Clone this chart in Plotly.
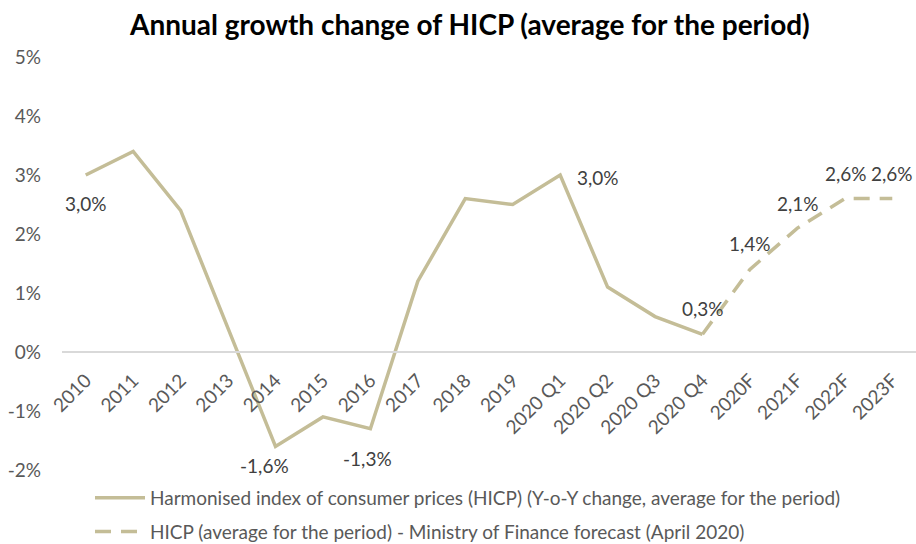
import plotly.graph_objects as go

# Categories on the x axis
categories = ["2010", "2011", "2012", "2013", "2014", "2015", "2016", "2017",
              "2018", "2019", "2020 Q1", "2020 Q2", "2020 Q3", "2020 Q4",
              "2020F", "2021F", "2022F", "2023F"]

# Actual HICP, % y-o-y (average for the period)
hicp_actual_x = categories[:14]
hicp_actual = [3.0, 3.4, 2.4, 0.4, -1.6, -1.1, -1.3, 1.2, 2.6, 2.5,
               3.0, 1.1, 0.6, 0.3]

# Ministry of Finance forecast (April 2020), starting from the last actual
hicp_forecast_x = categories[13:]
hicp_forecast = [0.3, 1.4, 2.1, 2.6, 2.6]

# Y axis ticks
y_ticks = [-2, -1, 0, 1, 2, 3, 4, 5]
y_tick_labels = ["-2%", "-1%", "0%", "1%", "2%", "3%", "4%", "5%"]

# Which points carry a value label, and the label offset (px) for each
actual_label_idx = [0, 4, 6, 10]
actual_label_shift = [(0, -28), (-11, -19), (-3, -30), (38, -2)]
forecast_label_idx = [0, 1, 2, 3, 4]
forecast_label_shift = [(0, 26), (0, 26), (1, 25), (1, 25), (0, 25)]

LINE_COLOR = "#C4BD97"
FONT = "Lato, 'Open Sans', sans-serif"
Y_MIN, Y_MAX = -2, 5


def fmt(v):
    return f"{v:.1f}%".replace(".", ",")


fig = go.Figure()
fig.add_trace(go.Scatter(
    x=hicp_actual_x, y=hicp_actual, mode="lines",
    line=dict(color=LINE_COLOR, width=3.5),
    name="Harmonised index of consumer prices (HICP) (Y-o-Y change, average for the period)",
    legendgroup="a",
))
fig.add_trace(go.Scatter(
    x=hicp_forecast_x, y=hicp_forecast, mode="lines",
    line=dict(color=LINE_COLOR, width=3.5, dash="16px,10px"),
    name="HICP (average for the period) - Ministry of Finance forecast (April 2020)",
    legendgroup="b",
))

# Value labels; x given as category index so year-like names are not read as numbers
annotations = []
for xs, ys, idx, shifts in ((hicp_actual_x, hicp_actual, actual_label_idx, actual_label_shift),
                            (hicp_forecast_x, hicp_forecast, forecast_label_idx, forecast_label_shift)):
    for i, (dx, dy) in zip(idx, shifts):
        annotations.append(dict(x=categories.index(xs[i]), y=ys[i], text=fmt(ys[i]),
                                showarrow=False, xshift=dx, yshift=dy,
                                font=dict(family=FONT, size=19, color="#404040")))

fig.update_layout(
    width=916, height=544,
    margin=dict(l=62, r=0, t=57, b=74, autoexpand=False),
    paper_bgcolor="white", plot_bgcolor="white",
    font=dict(family=FONT, color="#595959"),
    title=dict(text="<b>Annual growth change of HICP (average for the period)</b>",
               x=0.513, xanchor="center", y=1 - 25 / 544, yanchor="middle",
               font=dict(family=FONT, size=28, color="black")),
    annotations=annotations,
    showlegend=True,
    legend=dict(orientation="v", xref="container", yref="container",
                x=90 / 916, xanchor="left", y=1 - 479 / 544, yanchor="top",
                font=dict(family=FONT, size=19, color="#595959"),
                tracegroupgap=6, itemwidth=50),
    # category axis drawn along the 0% line; invisible ticks keep labels clear of it
    xaxis=dict(type="category", categoryorder="array", categoryarray=categories,
               range=[-0.5, len(categories) - 0.5], autorange=False,
               anchor="free", position=(0 - Y_MIN) / (Y_MAX - Y_MIN),
               showline=True, linecolor="#D9D9D9", linewidth=2,
               showgrid=False, ticks="outside", ticklen=9,
               tickcolor="rgba(0,0,0,0)", tickangle=-45,
               tickfont=dict(family=FONT, size=19, color="#595959")),
    yaxis=dict(range=[Y_MIN, Y_MAX], tickvals=y_ticks, ticktext=y_tick_labels,
               showgrid=False, zeroline=False, showline=False, ticks="",
               ticklabelstandoff=20,
               tickfont=dict(family=FONT, size=19, color="#595959")),
)

fig.write_html("out.html")
